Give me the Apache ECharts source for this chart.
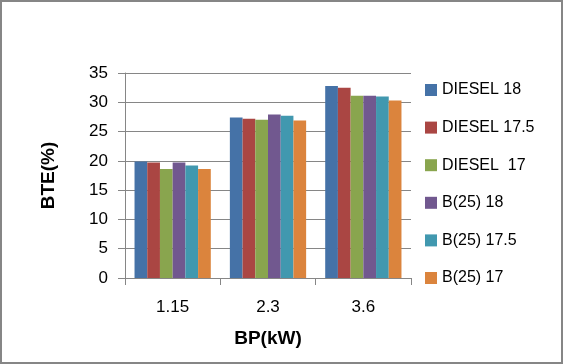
<!DOCTYPE html>
<html>
<head>
<meta charset="utf-8">
<script src="https://cdn.jsdelivr.net/npm/echarts@6/dist/echarts.min.js"></script>
<style>
	html, body { margin: 0; padding: 0; background: #fff; }
	#chart { width: 563px; height: 364px; }
</style>
</head>
<body>
<div id="chart"></div>
<script>
// 负荷点 (BP, kW)
var categories = ['1.15', '2.3', '3.6'];
var seriesNames = ['DIESEL 18', 'DIESEL 17.5', 'DIESEL  17', 'B(25) 18', 'B(25) 17.5', 'B(25) 17'];
var diesel18 = [19.9, 27.4, 32.8];
var diesel175 = [19.7, 27.2, 32.5];
var diesel17 = [18.6, 27.0, 31.1];
var b25_18 = [19.7, 27.9, 31.1];
var b25_175 = [19.2, 27.7, 31.0];
var b25_17 = [18.6, 26.9, 30.3];
var yTicks = [0, 5, 10, 15, 20, 25, 30, 35];

var colors = ['#4572A7', '#AA4643', '#89A54E', '#71588F', '#4198AF', '#DB843D'];
var font = '"Liberation Sans", Arial, sans-serif';

var chartData = [diesel18, diesel175, diesel17, b25_18, b25_175, b25_17];
var series = [];
for (var i = 0; i < seriesNames.length; i++) {
	series.push({
		name: seriesNames[i],
		type: 'bar',
		data: chartData[i],
		barGap: '0%',
		barCategoryGap: '20%',
		itemStyle: { color: colors[i] }
	});
}

var chart = echarts.init(document.getElementById('chart'));
var option = {
	animation: false,
	color: colors,
	graphic: [{
		type: 'rect',
		shape: { x: 1, y: 1, width: 561, height: 362 },
		style: { fill: 'none', stroke: '#868686', lineWidth: 2 },
		silent: true
	}],
	grid: {
		left: 125,
		right: 152,
		top: 73,
		bottom: 86
	},
	legend: {
		orient: 'vertical',
		left: 425,
		top: 82,
		padding: 0,
		itemWidth: 12,
		itemHeight: 12,
		itemGap: 21.6,
		icon: 'rect',
		textStyle: {
			fontFamily: font,
			fontSize: 16,
			lineHeight: 16,
			color: '#000'
		},
		data: seriesNames
	},
	xAxis: {
		type: 'category',
		data: categories,
		name: 'BP(kW)',
		nameLocation: 'middle',
		nameGap: 51,
		nameTextStyle: { fontFamily: font, fontSize: 19, fontWeight: 'bold', color: '#000' },
		axisLine: { lineStyle: { color: '#868686', width: 1 } },
		axisTick: { show: true, length: 7, lineStyle: { color: '#868686' } },
		axisLabel: { fontFamily: font, fontSize: 17, color: '#000', margin: 21 }
	},
	yAxis: {
		type: 'value',
		min: 0,
		max: 35,
		interval: 5,
		name: 'BTE(%)',
		nameLocation: 'middle',
		nameGap: 67,
		nameRotate: 90,
		nameTextStyle: { fontFamily: font, fontSize: 19, fontWeight: 'bold', color: '#000' },
		axisLine: { show: true, lineStyle: { color: '#868686', width: 1 } },
		axisTick: { show: true, length: 7, lineStyle: { color: '#868686' } },
		axisLabel: {
			fontFamily: font, fontSize: 17, color: '#000', margin: 17,
			formatter: function(v) { return yTicks.indexOf(v) >= 0 ? String(v) : ''; }
		},
		splitLine: { lineStyle: { color: '#868686', width: 1 } }
	},
	series: series
};
chart.setOption(option);
</script>
</body>
</html>
